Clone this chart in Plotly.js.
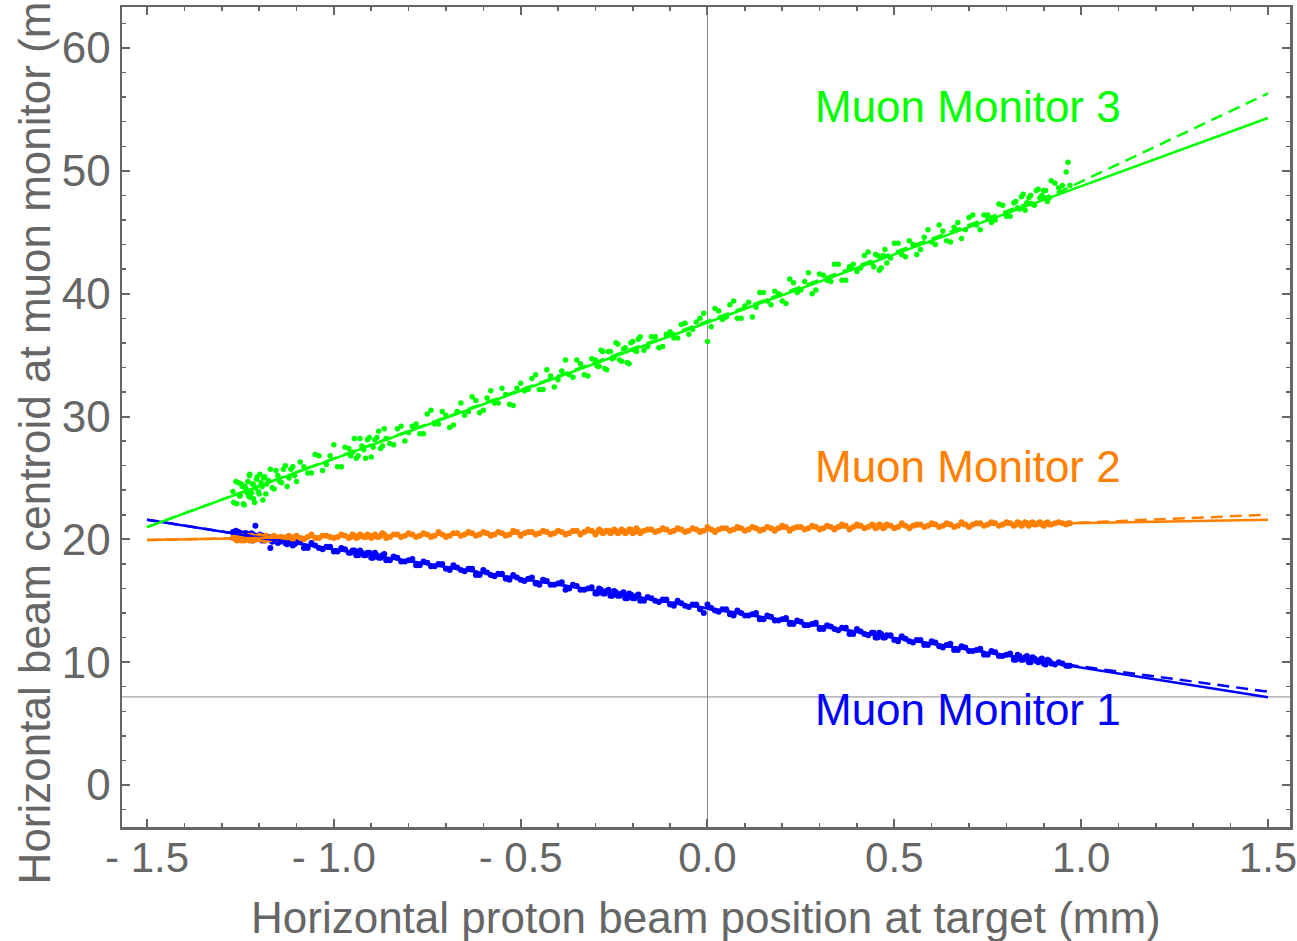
<!DOCTYPE html>
<html>
<head>
<meta charset="utf-8">
<script src="https://cdn.plot.ly/plotly-3.0.1.min.js"></script>
<style>html,body{margin:0;padding:0;background:#fff;}#chart{width:1297px;height:941px;}</style>
</head>
<body>
<div id="chart"></div>
<script>
// Horizontal proton beam position at target (mm), shared by all three monitors (run A)
const beamX = [
-1.27,-1.26,-1.255,-1.25,-1.245,-1.24,-1.235,-1.23,-1.228,-1.225,-1.22,-1.218,-1.215,-1.21,-1.205,-1.2,-1.195,-1.19,-1.185,-1.18,-1.17,-1.16,-1.15,-1.14,-1.13,-1.12,-1.11,-1.1,
-1.08,-1.06,-1.04,-1.02,-1.0,-0.98,-0.96,-0.95,-0.94,-0.93,-0.92,-0.91,-0.9,-0.89,-0.88,-0.87,-0.86,-0.84,-0.82,-0.8,
-0.78,-0.76,-0.74,-0.72,-0.7,-0.68,-0.66,-0.64,-0.62,-0.6,-0.58,-0.56,-0.54,-0.52,-0.5,-0.48,-0.46,-0.44,-0.42,-0.4,
-0.38,-0.36,-0.34,-0.32,-0.3,-0.29,-0.28,-0.27,-0.26,-0.25,-0.24,-0.23,-0.22,-0.21,-0.2,-0.19,-0.18,-0.16,-0.14,-0.12,-0.1,-0.08,-0.06,-0.04,-0.02,0.0,
0.02,0.04,0.06,0.08,0.1,0.12,0.14,0.16,0.18,0.2,0.22,0.24,0.26,0.28,0.3,0.32,0.34,0.36,0.38,0.4,
0.42,0.44,0.45,0.46,0.47,0.48,0.5,0.52,0.54,0.56,0.58,0.6,0.62,0.64,0.66,0.68,0.7,0.72,0.74,0.76,
0.78,0.8,0.82,0.83,0.84,0.85,0.86,0.87,0.88,0.89,0.9,0.91,0.92,0.94,0.96,0.97
];
const mon3Y = [
23.9,22.9,24.6,23.6,24.3,22.8,24.1,24.7,23.5,25.3,23.8,24.5,23.3,24.2,25.1,23.7,24.6,23.2,25.1,24.5,25.7,24.1,25.2,24.6,26.0,25.0,25.9,24.7,
25.9,25.4,26.8,26.1,27.7,25.9,27.4,27.1,26.6,28.2,27.3,28.1,26.7,28.1,28.8,27.6,28.2,27.7,29.2,28.7,
29.4,28.6,30.5,29.4,30.1,29.3,31.1,30.4,31.3,30.5,32.1,31.1,31.8,30.9,32.7,32.2,33.4,32.2,33.3,33.0,
34.6,33.2,34.3,33.3,34.6,34.1,35.3,33.8,35.3,34.8,35.9,34.5,35.6,34.3,36.1,35.3,36.5,35.7,36.5,35.7,36.9,36.4,37.6,37.1,38.0,36.1,
38.8,37.9,39.1,38.0,39.0,38.1,40.1,39.4,40.2,39.4,41.2,40.1,41.0,40.0,41.6,41.1,42.4,41.1,42.2,41.8,
43.1,42.5,43.2,41.9,43.1,42.5,44.1,43.2,44.3,43.2,44.6,44.2,45.6,44.3,45.4,44.5,46.2,45.6,46.4,45.8,
47.3,46.3,47.4,47.0,47.9,46.8,47.8,47.3,48.4,47.8,48.4,47.5,49.2,48.6,49.9,48.8
];
const mon1Y = [
20.6,20.3,20.6,20.3,20.4,20.1,20.5,20.1,20.4,20.2,20.5,19.9,20.3,21.1,20.0,20.3,20.0,20.3,19.9,20.2,19.3,20.1,19.7,20.1,19.7,19.9,19.5,19.8,
19.3,19.7,19.3,19.4,19.0,19.3,18.9,19.1,18.7,19.1,18.7,18.9,18.5,18.9,18.5,18.7,18.3,18.6,18.2,18.3,
17.9,18.2,17.8,18.0,17.6,17.9,17.5,17.6,17.1,17.5,17.1,17.2,16.8,17.1,16.7,16.8,16.4,16.7,16.3,16.4,
15.9,16.3,15.9,16.0,15.6,16.0,15.6,15.8,15.4,15.8,15.4,15.6,15.2,15.6,15.2,15.4,15.0,15.3,15.0,15.1,14.7,15.0,14.6,14.7,14.3,14.7,
14.2,14.3,13.9,14.2,13.8,13.9,13.5,13.8,13.4,13.5,13.1,13.4,13.0,13.1,12.7,13.0,12.7,12.8,12.3,12.7,
12.3,12.4,12.0,12.4,12.0,12.2,11.8,12.1,11.7,11.8,11.4,11.7,11.3,11.4,11.0,11.3,10.9,11.0,10.6,10.9,
10.5,10.6,10.2,10.6,10.2,10.4,10.0,10.4,10.1,10.2,9.9,10.2,9.9,10.0,9.7,9.7
];
const mon2Y = [
20.1,19.9,20.2,20.0,20.3,19.9,20.2,20.0,20.2,19.9,20.3,20.1,19.9,20.2,20.0,20.3,20.0,20.2,19.9,20.2,20.0,20.3,20.0,20.2,20.0,20.3,20.0,20.3,
20.0,20.4,20.1,20.3,20.1,20.4,20.1,20.4,20.1,20.4,20.2,20.4,20.1,20.4,20.2,20.5,20.1,20.4,20.2,20.5,
20.2,20.5,20.2,20.6,20.2,20.5,20.3,20.6,20.3,20.6,20.3,20.6,20.3,20.7,20.3,20.6,20.4,20.7,20.4,20.7,
20.4,20.7,20.4,20.8,20.4,20.8,20.5,20.7,20.5,20.8,20.5,20.8,20.5,20.8,20.5,20.9,20.5,20.8,20.6,20.9,20.6,20.9,20.6,20.9,20.6,21.0,
20.6,20.9,20.7,21.0,20.7,21.0,20.7,21.0,20.7,21.1,20.7,21.0,20.8,21.1,20.8,21.1,20.8,21.2,20.8,21.2,
20.9,21.2,20.9,21.2,20.9,21.2,20.9,21.3,20.9,21.2,21.0,21.3,21.0,21.3,21.0,21.4,21.0,21.3,21.1,21.4,
21.1,21.4,21.1,21.4,21.1,21.4,21.1,21.4,21.2,21.4,21.1,21.4,21.2,21.4,21.2,21.3
];
// Second run of spills
const beamXb = [
-1.268,-1.262,-1.252,-1.248,-1.242,-1.238,-1.232,-1.226,-1.222,-1.216,-1.212,-1.207,-1.202,-1.198,-1.192,-1.188,-1.182,-1.175,-1.165,-1.155,-1.145,-1.135,-1.125,-1.115,-1.105,
-1.09,-1.07,-1.05,-1.03,-1.01,-0.99,-0.97,-0.955,-0.945,-0.935,-0.925,-0.915,-0.905,-0.895,-0.885,-0.875,-0.865,-0.85,-0.83,-0.81,
-0.79,-0.77,-0.75,-0.73,-0.71,-0.69,-0.67,-0.65,-0.63,-0.61,-0.59,-0.57,-0.55,-0.53,-0.51,-0.49,-0.47,-0.45,-0.43,-0.41,
-0.39,-0.37,-0.35,-0.33,-0.31,-0.295,-0.285,-0.275,-0.265,-0.255,-0.245,-0.235,-0.225,-0.215,-0.205,-0.195,-0.185,-0.17,-0.15,-0.13,-0.11,-0.09,-0.07,-0.05,-0.03,-0.01,
0.01,0.03,0.05,0.07,0.09,0.11,0.13,0.15,0.17,0.19,0.21,0.23,0.25,0.27,0.29,0.31,0.33,0.35,0.37,0.39,
0.41,0.43,0.445,0.455,0.465,0.475,0.49,0.51,0.53,0.55,0.57,0.59,0.61,0.63,0.65,0.67,0.69,0.71,0.73,0.75,
0.77,0.79,0.81,0.825,0.835,0.845,0.855,0.865,0.875,0.885,0.895,0.905,0.915,0.93,0.95,0.965
];
const mon3Yb = [
23.0,24.7,23.5,24.5,22.9,24.3,23.8,25.2,23.4,24.5,23.0,24.9,23.9,25.3,24.3,25.0,23.7,24.8,24.2,25.6,24.7,25.7,24.3,25.7,25.2,
26.3,25.4,26.9,25.6,26.8,25.9,27.5,26.8,28.2,26.8,27.6,26.6,28.3,27.5,28.3,27.4,29.0,27.8,29.0,28.0,
29.2,28.6,30.2,29.4,30.4,29.1,30.4,30.1,31.6,30.3,31.5,31.1,32.3,31.0,32.3,32.1,33.1,32.2,33.8,32.4,
33.7,33.4,34.6,33.4,34.7,34.1,35.4,33.9,35.3,34.7,36.0,34.6,35.5,34.4,36.0,35.4,36.3,35.4,36.5,35.6,36.7,36.4,37.5,36.7,37.7,38.4,
37.3,38.6,38.1,39.4,38.0,39.3,38.9,40.1,39.1,40.0,39.2,40.9,40.3,41.7,40.3,41.5,41.0,42.4,41.1,42.4,
42.1,43.4,42.2,43.1,42.1,43.6,42.9,44.1,43.0,44.0,43.6,45.2,44.0,45.1,44.2,45.8,45.2,46.4,45.2,46.4,
46.0,47.2,46.3,47.5,46.9,48.1,47.4,48.0,47.2,48.5,48.0,48.4,47.8,49.0,48.8,50.7
];
const mon1Yb = [
20.4,20.7,20.2,20.5,20.3,20.5,20.1,20.4,20.2,20.4,20.0,20.3,20.1,20.4,19.9,20.2,20.0,20.2,19.8,20.0,19.8,20.0,19.6,19.9,19.6,
19.8,19.3,19.5,19.2,19.4,19.0,19.2,18.9,19.1,18.7,18.9,18.7,18.9,18.5,18.7,18.5,18.8,18.3,18.5,18.2,
18.4,17.9,18.1,17.8,18.0,17.5,17.7,17.4,17.6,17.1,17.3,17.0,17.2,16.7,16.9,16.6,16.9,16.3,16.6,16.3,
16.5,16.0,16.2,15.9,16.1,15.6,15.9,15.6,15.9,15.4,15.7,15.4,15.7,15.2,15.5,15.2,15.5,15.0,15.2,14.9,15.1,14.6,14.8,14.5,14.7,14.0,
14.4,14.1,14.3,13.8,14.0,13.8,14.0,13.5,13.7,13.4,13.6,13.1,13.3,13.0,13.2,12.7,12.9,12.6,12.8,12.3,
12.5,12.2,12.4,12.0,12.3,12.0,12.2,11.7,11.9,11.6,11.8,11.4,11.6,11.2,11.5,11.0,11.2,10.9,11.1,10.6,
10.8,10.5,10.7,10.2,10.5,10.2,10.5,10.0,10.3,10.0,10.3,9.8,10.1,9.8,9.9,9.7
];
const mon2Yb = [
20.2,20.0,20.1,19.9,20.2,20.0,20.1,20.3,20.0,20.2,20.0,20.2,20.1,20.3,20.0,20.1,20.3,20.0,20.2,20.1,20.2,20.1,20.2,20.1,20.2,
20.1,20.2,20.1,20.3,20.2,20.2,20.3,20.2,20.3,20.2,20.3,20.2,20.3,20.3,20.2,20.3,20.4,20.2,20.4,20.3,
20.4,20.3,20.4,20.3,20.4,20.3,20.5,20.4,20.5,20.4,20.5,20.4,20.5,20.4,20.6,20.5,20.6,20.5,20.6,20.5,
20.6,20.5,20.7,20.6,20.7,20.6,20.7,20.6,20.7,20.6,20.7,20.6,20.7,20.6,20.8,20.6,20.7,20.7,20.8,20.7,20.8,20.7,20.8,20.7,20.8,20.7,
20.8,20.8,20.9,20.8,20.9,20.8,20.9,20.8,20.9,20.9,21.0,20.9,21.0,20.9,21.0,20.9,21.0,21.0,21.1,21.0,
21.1,21.0,21.1,21.0,21.1,21.0,21.1,21.0,21.1,21.1,21.2,21.1,21.2,21.1,21.2,21.1,21.2,21.2,21.3,21.2,
21.3,21.2,21.3,21.2,21.3,21.2,21.3,21.3,21.2,21.3,21.2,21.3,21.2,21.3,21.3,21.3
];
// Fit lines
const fitX = [-1.5, 1.5];
const fit1Solid = [21.6, 7.15];
const fit2Solid = [19.95, 21.6];
const fit3Solid = [21.0, 54.3];
const fitDashX = [-1.5, 0.95, 1.5];
const fit1Dash = [21.6, 9.85, 7.6];
const fit2Dash = [19.95, 21.3, 22.0];
const fit3Dash = [21.0, 48.4, 56.3];
// Labels
const labelText = ['Muon Monitor 1', 'Muon Monitor 2', 'Muon Monitor 3'];
const labelX = [0.698, 0.698, 0.698];
const labelY = [6.15, 25.95, 55.25];
const xTickVals = [-1.5, -1.0, -0.5, 0.0, 0.5, 1.0, 1.5];
const xTickText = ['- 1.5', '- 1.0', '- 0.5', '0.0', '0.5', '1.0', '1.5'];
const yTickVals = [0, 10, 20, 30, 40, 50, 60];
const yTickText = ['0', '10', '20', '30', '40', '50', '60'];
const axisOriginX = 0;
const axisOriginY = 7.17;

const BLUE = 'rgb(0,0,255)', ORANGE = 'rgb(255,128,0)', GREEN = 'rgb(0,255,0)';
const GRAY = '#666666';
const FONT = 'Liberation Sans, Arial, Helvetica, sans-serif';

function pts(x, y, c, s) {
  return {x: x, y: y, type: 'scatter', mode: 'markers', marker: {color: c, size: s}, hoverinfo: 'skip'};
}
function ln(x, y, c, dash) {
  return {x: x, y: y, type: 'scatter', mode: 'lines', line: {color: c, width: 2.5, dash: dash}, hoverinfo: 'skip'};
}
const data = [
  pts(beamX, mon1Y, BLUE, 6), pts(beamXb, mon1Yb, BLUE, 6),
  pts(beamX, mon2Y, ORANGE, 6), pts(beamXb, mon2Yb, ORANGE, 6),
  pts(beamX, mon3Y, GREEN, 5.5), pts(beamXb, mon3Yb, GREEN, 5.5),
  ln(fitDashX, fit1Dash, BLUE, '12px,7px'), ln(fitDashX, fit2Dash, ORANGE, '12px,7px'), ln(fitDashX, fit3Dash, GREEN, '12px,7px'),
  ln(fitX, fit1Solid, BLUE, 'solid'), ln(fitX, fit2Solid, ORANGE, 'solid'), ln(fitX, fit3Solid, GREEN, 'solid')
];
const colors = [BLUE, ORANGE, GREEN];
const ann = labelText.map((t, i) => ({x: labelX[i], y: labelY[i], xref: 'x', yref: 'y', text: t, showarrow: false,
  font: {family: FONT, size: 44, color: colors[i]}, xanchor: 'center', yanchor: 'middle'}));
ann.push({xref: 'paper', yref: 'paper', x: 0.5, y: -0.11, text: 'Horizontal proton beam position at target (mm)', showarrow: false,
  font: {family: FONT, size: 44, color: GRAY}, xanchor: 'center', yanchor: 'middle'});
ann.push({xref: 'paper', yref: 'paper', x: -0.075, y: 0.5, text: 'Horizontal beam centroid at muon monitor (mm)', showarrow: false,
  textangle: -90, font: {family: FONT, size: 44, color: GRAY}, xanchor: 'center', yanchor: 'middle'});

const axCommon = {showgrid: false, zeroline: false, showline: true, linecolor: GRAY, linewidth: 2.5, mirror: 'ticks',
  ticks: 'inside', ticklen: 8, tickwidth: 2, tickcolor: GRAY, tickfont: {family: FONT, size: 44, color: GRAY},
  ticklabeloverflow: 'allow'};
const layout = {
  width: 1297, height: 941,
  margin: {l: 122, r: 7, t: 7, b: 114},
  paper_bgcolor: '#fff', plot_bgcolor: '#fff',
  showlegend: false,
  xaxis: Object.assign({}, axCommon, {range: [-1.567, 1.559], tickmode: 'array', tickvals: xTickVals, ticktext: xTickText,
    ticklabelstandoff: -8, tickfont: {family: FONT, size: 42, color: GRAY},
    minor: {tickmode: 'linear', tick0: 0, dtick: 0.1, ticks: 'inside', ticklen: 4, tickwidth: 1.5, tickcolor: GRAY}}),
  yaxis: Object.assign({}, axCommon, {range: [-3.42, 63.34], tickmode: 'array', tickvals: yTickVals, ticktext: yTickText,
    minor: {tickmode: 'linear', tick0: 0, dtick: 2, ticks: 'inside', ticklen: 4, tickwidth: 1.5, tickcolor: GRAY}}),
  shapes: [
    {type: 'line', xref: 'x', yref: 'paper', x0: axisOriginX, x1: axisOriginX, y0: 0, y1: 1, line: {color: '#888', width: 1}, layer: 'below'},
    {type: 'line', xref: 'paper', yref: 'y', x0: 0, x1: 1, y0: axisOriginY, y1: axisOriginY, line: {color: '#888', width: 1}, layer: 'below'}
  ],
  annotations: ann
};
Plotly.newPlot('chart', data, layout, {staticPlot: true, displayModeBar: false});
</script>
</body>
</html>
